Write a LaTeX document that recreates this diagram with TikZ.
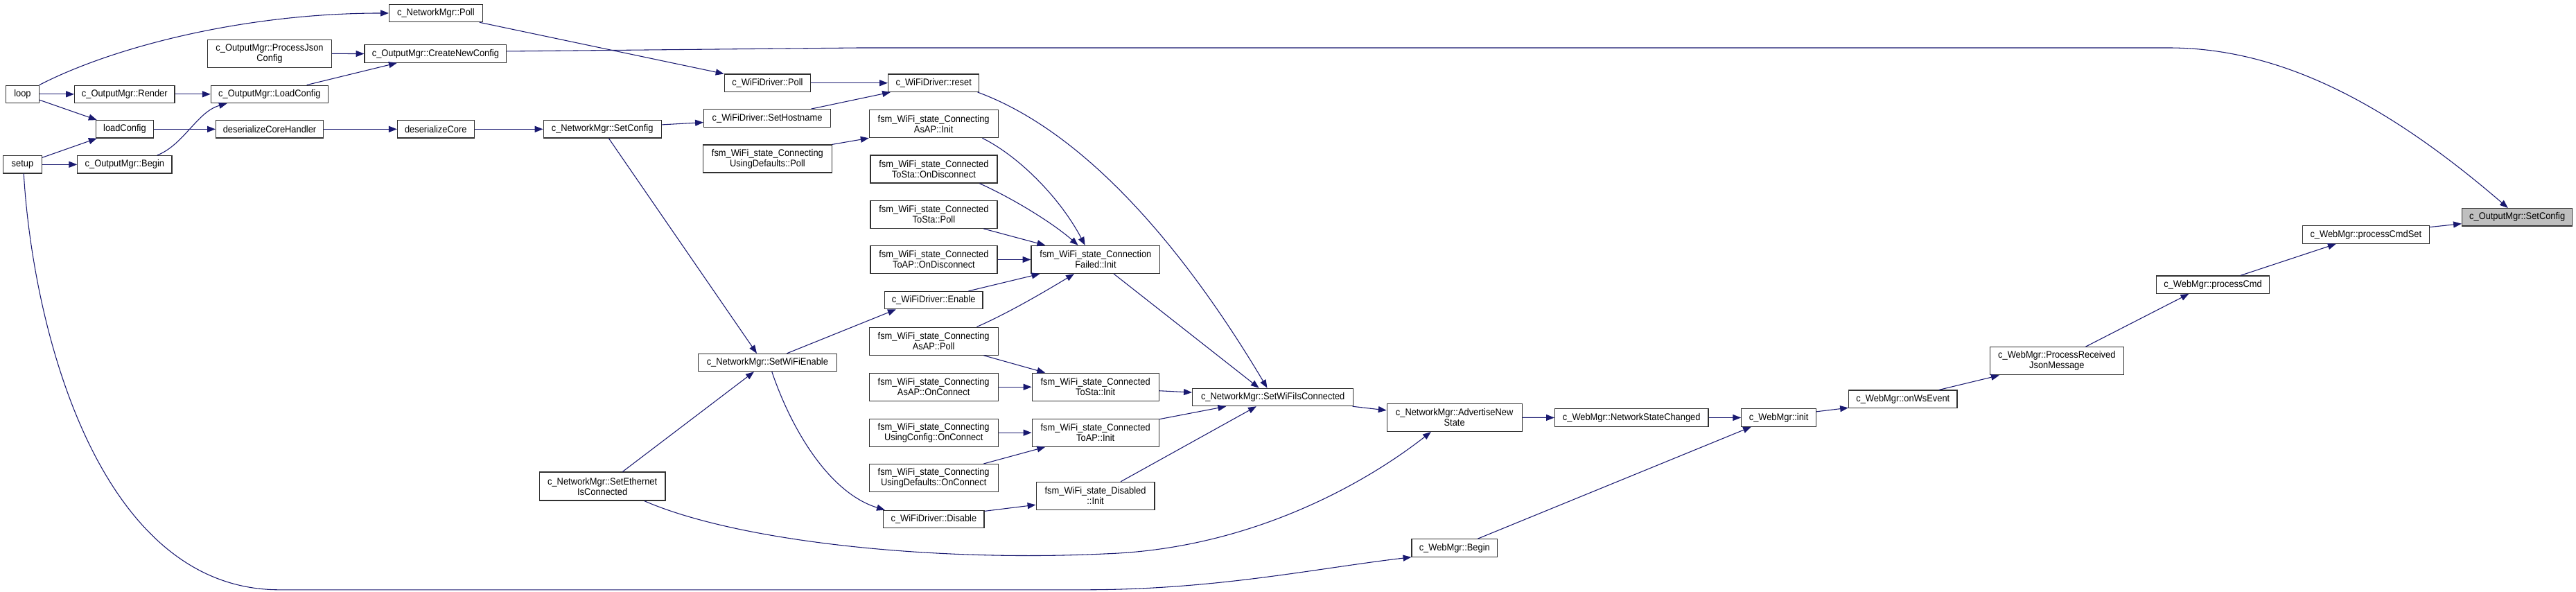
\documentclass[tikz,border=0pt]{standalone}
\usepackage{fontspec}
\setmainfont{Liberation Sans}[FakeStretch=0.92]
\usetikzlibrary{arrows.meta,calc}
\definecolor{edgecol}{HTML}{191970}
\definecolor{hlfill}{HTML}{BFBFBF}
\definecolor{boxline}{HTML}{303030}
\tikzset{
  box/.style={draw=boxline, line width=0.5pt, fill=white, rectangle, inner sep=0pt,
    align=center, font=\fontsize{5.9}{6.3}\selectfont, minimum height=10.7pt},
  box2/.style={box, minimum height=16.9pt},
  hl/.style={box, fill=hlfill},
  call/.style={draw=edgecol, line width=0.45pt, -{Triangle[length=5pt,width=3.8pt]}},
}
\begin{document}
\begin{tikzpicture}[x=1pt,y=-1pt]
\useasboundingbox (0,0) rectangle (1568,359.85);

% ---- nodes ----
\node[box, minimum width=20pt] (loop) at (13.7,57.3) {loop};
\node[box, minimum width=23.4pt] (setup) at (13.7,100.1) {setup};
\node[box, minimum width=60.9pt] (render) at (75.85,57.3) {c\_OutputMgr::Render};
\node[box, minimum width=35pt] (lcfg) at (75.9,78.6) {loadConfig};
\node[box, minimum width=57.4pt] (obegin) at (75.9,100.1) {c\_OutputMgr::Begin};
\node[box2, minimum width=75.4pt] (pjson) at (164.1,32.65) {c\_OutputMgr::ProcessJson\\Config};
\node[box, minimum width=71.3pt] (ocfgload) at (164.05,57.3) {c\_OutputMgr::LoadConfig};
\node[box, minimum width=65.4pt] (dch) at (164.1,78.6) {deserializeCoreHandler};
\node[box, minimum width=56.8pt] (npoll) at (265.3,8.0) {c\_NetworkMgr::Poll};
\node[box, minimum width=86.4pt] (newcfg) at (265.1,32.7) {c\_OutputMgr::CreateNewConfig};
\node[box, minimum width=46.7pt] (dcore) at (265.25,78.6) {deserializeCore};
\node[box, minimum width=71.7pt] (nsetcfg) at (366.65,78.6) {c\_NetworkMgr::SetConfig};
\node[box, minimum width=84.3pt] (wifien) at (467.15,220.65) {c\_NetworkMgr::SetWiFiEnable};
\node[box2, minimum width=76.7pt, minimum height=17.3pt] (seteth) at (366.65,295.95) {c\_NetworkMgr::SetEthernet\\IsConnected};
\node[box, minimum width=52.5pt] (wpoll) at (467.15,50.5) {c\_WiFiDriver::Poll};
\node[box, minimum width=77.2pt] (sethost) at (467,71.9) {c\_WiFiDriver::SetHostname};
\node[box2, minimum width=78.3pt] (udpoll) at (467.15,96.6) {fsm\_WiFi\_state\_Connecting\\UsingDefaults::Poll};
\node[box, minimum width=55.4pt] (reset) at (568.3,50.5) {c\_WiFiDriver::reset};
\node[box2, minimum width=78.4pt] (asapinit) at (568.3,75.35) {fsm\_WiFi\_state\_Connecting\\AsAP::Init};
\node[box2, minimum width=77.2pt] (staoff) at (568.4,102.95) {fsm\_WiFi\_state\_Connected\\ToSta::OnDisconnect};
\node[box2, minimum width=77.2pt] (stapoll) at (568.4,130.5) {fsm\_WiFi\_state\_Connected\\ToSta::Poll};
\node[box2, minimum width=77.2pt] (apoff) at (568.4,157.95) {fsm\_WiFi\_state\_Connected\\ToAP::OnDisconnect};
\node[box, minimum width=59.8pt] (enable) at (568.3,182.7) {c\_WiFiDriver::Enable};
\node[box2, minimum width=78.4pt] (asappoll) at (568.3,207.6) {fsm\_WiFi\_state\_Connecting\\AsAP::Poll};
\node[box2, minimum width=78.4pt] (asaponc) at (568.3,235.5) {fsm\_WiFi\_state\_Connecting\\AsAP::OnConnect};
\node[box2, minimum width=78.4pt] (ucfgonc) at (568.3,263.3) {fsm\_WiFi\_state\_Connecting\\UsingConfig::OnConnect};
\node[box2, minimum width=78.4pt] (udefonc) at (568.3,290.9) {fsm\_WiFi\_state\_Connecting\\UsingDefaults::OnConnect};
\node[box, minimum width=61.2pt] (disable) at (568.4,315.95) {c\_WiFiDriver::Disable};
\node[box2, minimum width=78.4pt] (connfail) at (666.9,157.95) {fsm\_WiFi\_state\_Connection\\Failed::Init};
\node[box2, minimum width=77.2pt] (tostainit) at (666.8,235.5) {fsm\_WiFi\_state\_Connected\\ToSta::Init};
\node[box2, minimum width=77.2pt] (toapinit) at (666.8,263.3) {fsm\_WiFi\_state\_Connected\\ToAP::Init};
\node[box2, minimum width=72.1pt] (disinit) at (666.75,301.8) {fsm\_WiFi\_state\_Disabled\\::Init};
\node[box, minimum width=98pt] (setwic) at (774.8,241.7) {c\_NetworkMgr::SetWiFiIsConnected};
\node[box2, minimum width=82.2pt] (advert) at (885.3,254.1) {c\_NetworkMgr::AdvertiseNew\\State};
\node[box, minimum width=93.4pt] (nsc) at (993.1,254.15) {c\_WebMgr::NetworkStateChanged};
\node[box, minimum width=52.1pt] (wbegin) at (885.35,333.45) {c\_WebMgr::Begin};
\node[box, minimum width=45.4pt] (winit) at (1082.7,254.15) {c\_WebMgr::init};
\node[box, minimum width=66pt] (onws) at (1158.3,242.85) {c\_WebMgr::onWsEvent};
\node[box2, minimum width=81.3pt] (precv) at (1251.95,219.7) {c\_WebMgr::ProcessReceived\\JsonMessage};
\node[box, minimum width=68.5pt] (pcmd) at (1346.95,173.2) {c\_WebMgr::processCmd};
\node[box, minimum width=77.2pt] (pcmdset) at (1440.1,142.8) {c\_WebMgr::processCmdSet};
\node[hl, minimum width=67.2pt] (ocfgset) at (1532.2,132.15) {c\_OutputMgr::SetConfig};

% ---- connectors ----
\draw[call] (loop.north east) .. controls (70,28) and (150,8) .. (npoll.west);
\draw[call] (pjson.east) -- (newcfg.west);
\draw[call] (loop.east) -- (render.west);
\draw[call] (render.east) -- (ocfgload.west);
\draw[call] ($(ocfgload.north west)+(58.6,0)$) -- ($(newcfg.south west)+(20,0)$);
\draw[call] ($(loop.south east)+(0,-2.1)$) -- ($(lcfg.north west)+(0.8,0)$);
\draw[call] ($(setup.north east)+(0,1.4)$) -- ($(lcfg.south west)+(0.8,0)$);
\draw[call] (lcfg.east) -- (dch.west);
\draw[call] ($(obegin.north west)+(48.7,0)$) .. controls (112,88) and (120,68) .. ($(ocfgload.south west)+(10.1,0)$);
\draw[call] (setup.east) -- (obegin.west);
\draw[call] (dch.east) -- (dcore.west);
\draw[call] ($(setup.south west)+(12.7,0)$) .. controls (20,200) and (60,358.9) .. (170,358.9)
   -- (660,358.9) .. controls (740,358.9) and (800,346) .. (wbegin.south west);
\draw[call] ($(npoll.south east)+(-2.1,0)$) -- (wpoll.north west);
\draw[call] ($(newcfg.east)+(0,-1.5)$) -- (523,29.1) -- (1320,29.1)
   .. controls (1390,29.1) and (1455,65) .. ($(ocfgset.north west)+(28.2,0)$);
\draw[call] (dcore.east) -- (nsetcfg.west);
\draw[call] (wpoll.east) -- (reset.west);
\draw[call] ($(sethost.north east)+(-12.2,0)$) -- ($(reset.south west)+(1.7,0)$);
\draw[call] (udpoll.north east) -- (asapinit.south west);
\draw[call] ($(nsetcfg.east)+(0,-2.7)$) -- ($(sethost.west)+(0,2.6)$);
\draw[call] ($(nsetcfg.south west)+(40,0)$) -- ($(wifien.north west)+(35.9,0)$);
\draw[call] ($(seteth.north west)+(50.9,0)$) -- ($(wifien.south west)+(34.2,0)$);
\draw[call] ($(wifien.north west)+(54.2,0)$) -- ($(enable.south west)+(7.2,0)$);
\draw[call] ($(wifien.south west)+(45.1,0)$) .. controls (482,262) and (505,300) .. ($(disable.north west)+(1.1,0)$);
\draw[call] ($(seteth.south west)+(64.2,0)$) .. controls (450,330) and (570,342) .. (673,337)
   .. controls (760,334) and (830,295) .. ($(advert.south west)+(27.1,0)$);
\draw[call] ($(reset.south east)+(-1.2,0)$) .. controls (660,80) and (720,150) .. ($(setwic.north west)+(45.8,0)$);
\draw[call] ($(asapinit.south west)+(69.1,0)$) .. controls (620,95) and (645,120) .. ($(connfail.north west)+(33,0)$);
\draw[call] ($(staoff.south west)+(66.7,0)$) .. controls (615,120) and (640,135) .. ($(connfail.north west)+(28.8,0)$);
\draw[call] ($(stapoll.south west)+(69.2,0)$) -- ($(connfail.north west)+(8.8,0)$);
\draw[call] (apoff.east) -- (connfail.west);
\draw[call] ($(enable.north west)+(51.4,0)$) -- ($(connfail.south west)+(5.5,0)$);
\draw[call] ($(asappoll.north west)+(65.7,0)$) .. controls (615,190) and (640,175) .. ($(connfail.south west)+(26.4,0)$);
\draw[call] ($(connfail.south west)+(50.5,0)$) -- ($(setwic.north west)+(40.8,0)$);
\draw[call] ($(asappoll.south west)+(69.9,0)$) -- ($(tostainit.north west)+(8.3,0)$);
\draw[call] (asaponc.east) -- (tostainit.west);
\draw[call] (ucfgonc.east) -- (toapinit.west);
\draw[call] ($(udefonc.north west)+(69.9,0)$) -- ($(toapinit.south west)+(8.3,0)$);
\draw[call] ($(tostainit.east)+(0,2.3)$) -- ($(setwic.west)+(0,-2.9)$);
\draw[call] ($(toapinit.north east)+(0,0.5)$) -- ($(setwic.south west)+(20.8,0)$);
\draw[call] ($(disinit.north west)+(51.7,0)$) -- ($(setwic.south west)+(39.2,0)$);
\draw[call] ($(disable.north east)+(0,0.7)$) -- ($(disinit.west)+(0,5.4)$);
\draw[call] ($(setwic.south east)+(-0.8,0)$) -- ($(advert.west)+(0,-4.4)$);
\draw[call] (advert.east) -- (nsc.west);
\draw[call] ($(wbegin.north west)+(40.4,0)$) -- ($(winit.south west)+(6.2,0)$);
\draw[call] (nsc.east) -- (winit.west);
\draw[call] ($(winit.east)+(0,-3.65)$) -- ($(onws.south west)+(0,-0.3)$);
\draw[call] ($(onws.north west)+(55.2,0)$) -- ($(precv.south west)+(5.9,0)$);
\draw[call] ($(precv.north west)+(58.4,0)$) -- ($(pcmd.south west)+(19.9,0)$);
\draw[call] ($(pcmd.north west)+(51.4,0)$) -- ($(pcmdset.south west)+(20.7,0)$);
\draw[call] ($(pcmdset.east)+(0,-4.6)$) -- ($(ocfgset.west)+(0,4)$);
\end{tikzpicture}
\end{document}
